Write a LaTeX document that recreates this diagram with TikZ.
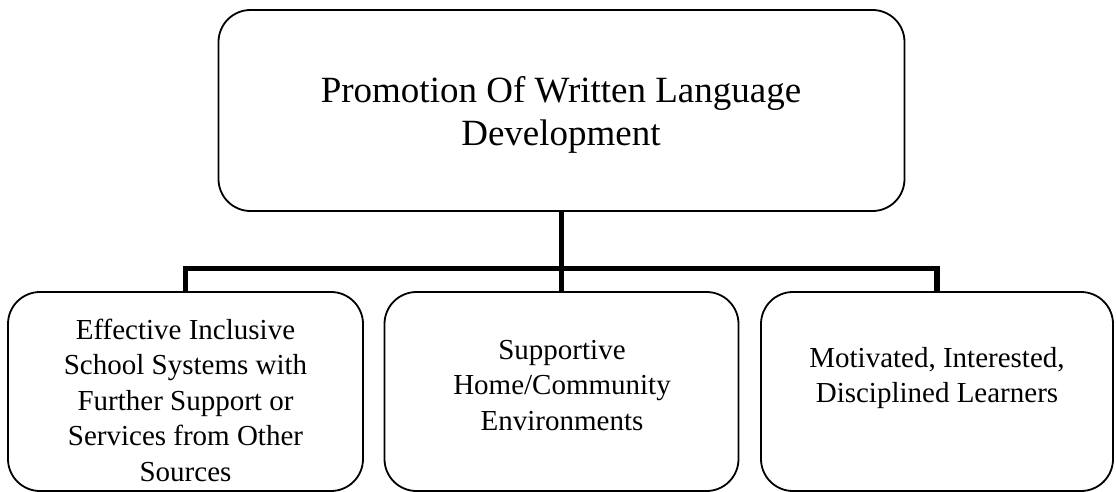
\documentclass[tikz,border=0pt]{standalone}
\usepackage{fontspec}
\setmainfont{Liberation Serif}
\begin{document}
\begin{tikzpicture}[x=1pt,y=-1pt,
  box/.style={draw=black, line width=1.8pt, rounded corners=32pt, inner sep=0pt, outer sep=0pt},
  bigtxt/.style={align=center, inner sep=0pt, font=\fontsize{37}{43}\selectfont},
  smalltxt/.style={align=center, inner sep=0pt, font=\fontsize{29}{35.5}\selectfont},
  conn/.style={draw=black, line width=5.5pt, line join=miter, line cap=butt}]
\useasboundingbox (0,0) rectangle (1116,492);
% boxes
\node[box, minimum width=686pt, minimum height=201pt] (top) at (561.5,110.5) {};
\node[box, minimum width=355pt, minimum height=199pt] (left) at (185.5,391.5) {};
\node[box, minimum width=354pt, minimum height=199pt] (mid) at (561.5,391.5) {};
\node[box, minimum width=352pt, minimum height=199pt] (right) at (937,391.5) {};
% texts
\node[bigtxt] (ttop) at (561,114.9) {Promotion Of Written Language\\Development};
\node[smalltxt] (tleft) at (185.5,400) {Effective Inclusive\\School Systems with\\Further Support or\\Services from Other\\Sources};
\node[smalltxt] (tmid) at (562,385.5) {Supportive\\Home/Community\\Environments};
\node[smalltxt] (tright) at (937,377.8) {Motivated, Interested,\\Disciplined Learners};
% connectors
\coordinate (bus) at (0,268.5);
\draw[conn] (top.south) -- (mid.north);
\draw[conn] (left.north) -- (left.north |- bus) -- (right.north |- bus) -- (right.north);
\end{tikzpicture}
\end{document}
